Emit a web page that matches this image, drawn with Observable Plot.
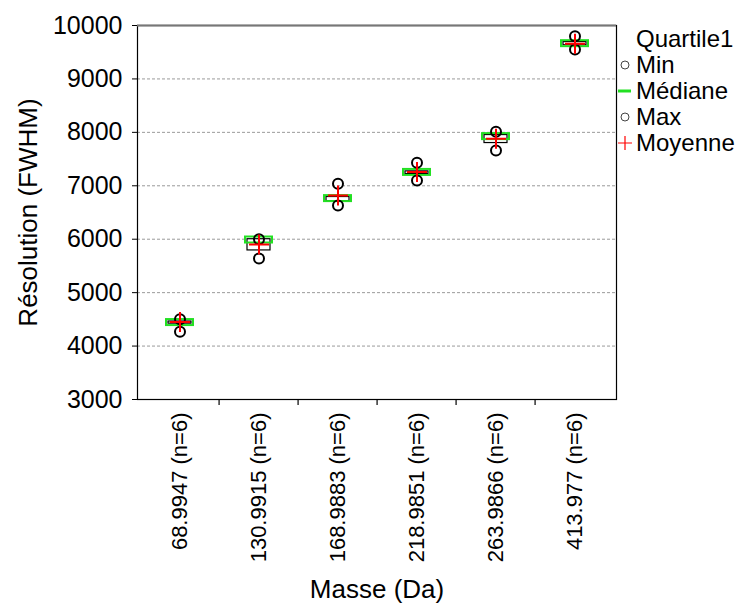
<!DOCTYPE html>
<html>
<head>
<meta charset="utf-8">
<script src="https://cdn.jsdelivr.net/npm/d3@7"></script>
<script src="https://cdn.jsdelivr.net/npm/@observablehq/plot@0.6"></script>
<style>
  html, body { margin: 0; padding: 0; background: #fff; }
  #wrap { position: relative; width: 740px; height: 605px; font-family: "Liberation Sans", Arial, sans-serif; }
  #legend { position: absolute; left: 616px; top: 26px; font-size: 24px; color: #000; line-height: 26px; }
  #legend .row { display: flex; align-items: center; height: 26px; white-space: nowrap; }
  #legend svg { width: 20px; height: 26px; flex: none; }
  #legend .title { padding-left: 20px; }
</style>
</head>
<body>
<div id="wrap">
  <div id="chart"></div>
  <div id="legend"></div>
</div>
<script>
const categories = ["68.9947 (n=6)", "130.9915 (n=6)", "168.9883 (n=6)", "218.9851 (n=6)", "263.9866 (n=6)", "413.977 (n=6)"];
const minVals    = [4270, 5640, 6630, 7100, 7660, 9550];
const q1Vals     = [4420, 5790, 6710, 7220, 7800, 9630];
const medianVals = [4440, 5985, 6760, 7250, 7920, 9660];
const q3Vals     = [4460, 6000, 6790, 7270, 7950, 9690];
const maxVals    = [4500, 6000, 7040, 7430, 8010, 9800];
const meanVals   = [4450, 5900, 6820, 7260, 7880, 9660];
const yTicks = [3000, 4000, 5000, 6000, 7000, 8000, 9000, 10000];
const gridVals = [4000, 5000, 6000, 7000, 8000, 9000];
const legendTitle = "Quartile1";
const legendItems = ["Min", "Médiane", "Max", "Moyenne"];
const xLabel = "Masse (Da)";
const yLabel = "Résolution (FWHM)";

const data = categories.map((c, i) => ({
  cat: c, min: minVals[i], q1: q1Vals[i], median: medianVals[i],
  q3: q3Vals[i], max: maxVals[i], mean: meanVals[i]
}));

const W = 740, H = 605, ML = 137, MR = 124, MT = 25, MB = 206;
const bw = (W - ML - MR) / categories.length;

const chart = Plot.plot({
  width: W, height: H,
  marginLeft: ML, marginRight: MR, marginTop: MT, marginBottom: MB,
  style: { fontFamily: "'Liberation Sans', Arial, sans-serif", color: "#000", background: "#fff", overflow: "visible" },
  x: { domain: categories, padding: 0, label: null },
  y: { domain: [3000, 10000], label: null },
  marks: [
    Plot.ruleY(gridVals, { stroke: "#9a9a9a", strokeDasharray: "3,2", strokeWidth: 1 }),
    Plot.frame({ stroke: "#000", strokeWidth: 1.2 }),
    Plot.ruleY([10000], { stroke: "#777", strokeWidth: 2 }),
    // band boundary ticks on x axis
    Plot.ruleX(categories.slice(1), { x: d => d, y1: 3000, y2: 3000, dx: -bw / 2, insetBottom: -6, insetTop: 0, stroke: "#000", strokeWidth: 1.2 }),
    Plot.axisY({ ticks: yTicks, tickSize: 5, tickPadding: 10, fontSize: 25, tickFormat: d => String(d), label: null }),
    Plot.axisX({ tickSize: 0, tickPadding: 13, tickRotate: -90, fontSize: 22, label: null }),
    // box Q1-Q3
    Plot.barY(data, { x: "cat", y1: "q1", y2: "q3", fill: "#fff", stroke: "#000", strokeWidth: 1.2, insetLeft: 28, insetRight: 28 }),
    // median
    Plot.barY(data, { x: "cat", y1: "median", y2: "median", insetTop: -3, insetBottom: -3, insetLeft: 26, insetRight: 26, fill: "none", stroke: "#22e022", strokeWidth: 2 }),
    // min / max
    Plot.dot(data, { x: "cat", y: "min", r: 5, stroke: "#000", strokeWidth: 2, fill: "none" }),
    Plot.dot(data, { x: "cat", y: "max", r: 5, stroke: "#000", strokeWidth: 2, fill: "none" }),
    // mean
    Plot.dot(data, { x: "cat", y: "mean", symbol: "plus", r: 6.5, stroke: "#ff0000", strokeWidth: 2 }),
    // axis titles
    Plot.text([yLabel], { frameAnchor: "left", textAnchor: "middle", dx: -109, rotate: -90, fontSize: 26, fill: "#000" }),
    Plot.text([xLabel], { frameAnchor: "bottom", dy: 198, fontSize: 26, fill: "#000" })
  ]
});
document.getElementById("chart").appendChild(chart);

// legend
const lg = document.getElementById("legend");
const t = document.createElement("div");
t.className = "row title";
t.textContent = legendTitle;
lg.appendChild(t);
const syms = [
  '<circle cx="9" cy="13" r="4" fill="none" stroke="#444" stroke-width="1"/>',
  '<line x1="2" x2="15" y1="13" y2="13" stroke="#22e022" stroke-width="3"/>',
  '<circle cx="9" cy="13" r="4" fill="none" stroke="#444" stroke-width="1"/>',
  '<path d="M2,13H16M9,6V20" stroke="#ff0000" stroke-width="1.2"/>'
];
legendItems.forEach((name, i) => {
  const r = document.createElement("div");
  r.className = "row";
  r.innerHTML = '<svg viewBox="0 0 20 26">' + syms[i] + '</svg><span>' + name + '</span>';
  lg.appendChild(r);
});
</script>
</body>
</html>
